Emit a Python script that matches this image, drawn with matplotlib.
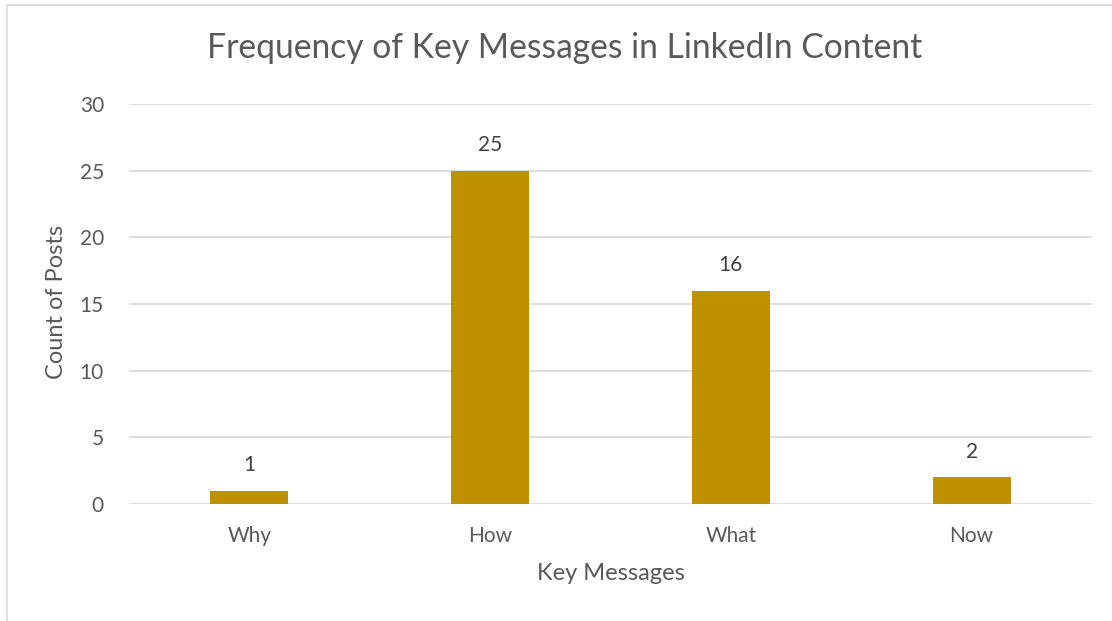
import matplotlib
matplotlib.use("Agg")
import matplotlib.pyplot as plt
from matplotlib.patches import Rectangle

# data
categories = ["Why", "How", "What", "Now"]
counts = [1, 25, 16, 2]
y_ticks = [0, 5, 10, 15, 20, 25, 30]

plt.rcParams['font.family'] = ['Lato', 'DejaVu Sans']
text_col = '#595959'
grid_col = '#D9D9D9'
W, H = 1112, 621

fig = plt.figure(figsize=(W / 100, H / 100), dpi=100)
ax = fig.add_axes([129 / W, 1 - 504 / H, (1092 - 129) / W, 400 / H])

x = range(len(categories))
bars = ax.bar(x, counts, width=0.325, color='#BF9000', zorder=3)
for b, v in zip(bars, counts):
    ax.annotate(str(v), (b.get_x() + b.get_width() / 2, v), xytext=(0, 11),
                textcoords='offset points', ha='center', va='bottom',
                fontsize=15, color='#404040')

ax.set_xlim(-0.5, len(categories) - 0.5)
ax.set_ylim(0, 30)
ax.set_yticks(y_ticks)
ax.set_xticks(list(x))
ax.set_xticklabels(categories)
ax.tick_params(length=0, labelsize=15, labelcolor=text_col)
ax.tick_params(axis='x', pad=16)
ax.tick_params(axis='y', pad=18)
ax.grid(axis='y', color=grid_col, linewidth=1.2, zorder=0)
for s in ax.spines.values():
    s.set_visible(False)

# axis titles and chart title placed in figure pixels
fig.text(611 / W, 1 - 573 / H, "Key Messages", ha='center', va='center',
         fontsize=17, color=text_col)
fig.text(57 / W, 1 - 302 / H, "Count of Posts", ha='center', va='center',
         rotation=90, fontsize=17, color=text_col)
fig.text(565 / W, 1 - 48 / H, "Frequency of Key Messages in LinkedIn Content",
         ha='center', va='center', fontsize=24.2, color=text_col)

# chart border, cut off at the right and bottom
fig.patches.append(Rectangle((7 / W, -0.05), 1.2, 1 - 5 / H + 0.05,
                             transform=fig.transFigure, fill=False,
                             edgecolor=grid_col, linewidth=1.2))

fig.savefig("out.png", dpi=100)
